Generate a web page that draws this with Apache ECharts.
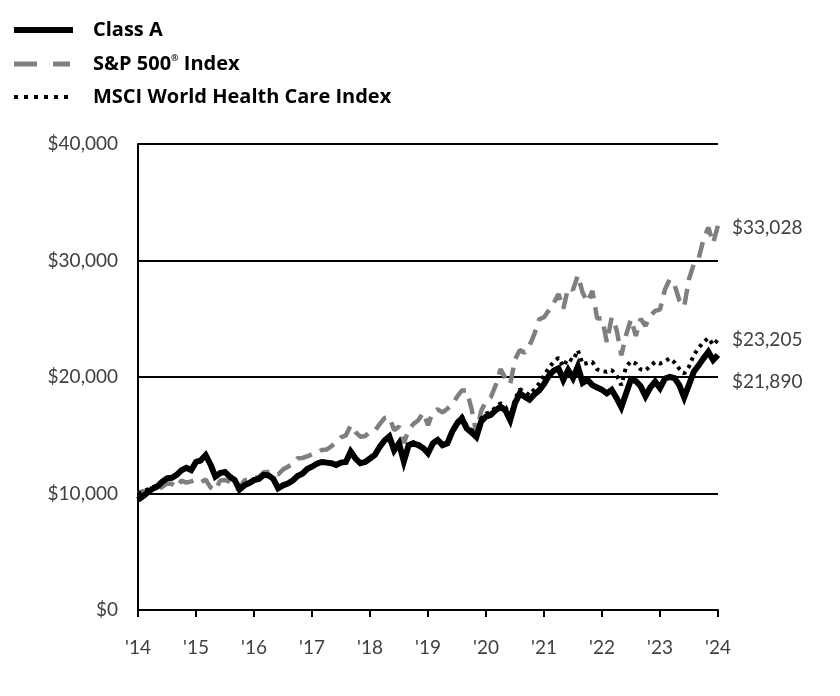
<!DOCTYPE html>
<html>
<head>
<meta charset="utf-8">
<script src="https://cdn.jsdelivr.net/npm/echarts@6/dist/echarts.min.js"></script>
<style>
html,body{margin:0;padding:0;background:#fff;}
#chart{width:840px;height:696px;}
</style>
</head>
<body>
<div id="chart"></div>
<script>
// Month index 0..120 (10 years, monthly), tick every 12 months
const xTickLabels = ["'14","'15","'16","'17","'18","'19","'20","'21","'22","'23","'24"];
const yTicks = [0, 10000, 20000, 30000, 40000];

const classA = [
  9450, 9750, 10100, 10400, 10600, 11000, 11300, 11350, 11600, 12000, 12200, 12000,
  12700, 12850, 13300, 12500, 11450, 11750, 11850, 11450, 11150, 10350, 10700, 10900,
  11150, 11250, 11600, 11550, 11250, 10450, 10700, 10850, 11100, 11500, 11700, 12100,
  12300, 12550, 12700, 12650, 12600, 12450, 12650, 12700, 13600, 13000, 12600, 12700,
  13000, 13300, 14000, 14550, 14900, 13700, 14300, 12750, 14150, 14300, 14150, 13900,
  13450, 14300, 14600, 14150, 14300, 15300, 16000, 16450, 15600, 15250, 14850, 16200,
  16600, 16750, 17150, 17450, 17150, 16300, 17750, 18600, 18300, 18050, 18500, 18850,
  19400, 20100, 20550, 20750, 19750, 20600, 19900, 20900, 19500, 19750, 19300, 19100,
  18900, 18600, 18900, 18200, 17400, 18600, 19800, 19650, 19200, 18350, 19100, 19600,
  19050, 19850, 20000, 19900, 19300, 18250, 19350, 20450, 21000, 21600, 22150, 21450,
  21890
];

const sp500 = [
  10000, 10207, 10066, 10469, 10322, 10574, 10858, 10831, 10506, 11110, 10935, 11040,
  11182, 10965, 11196, 10521, 10261, 11127, 11160, 10984, 10439, 10425, 11132, 11175,
  11376, 11406, 11827, 11843, 11845, 11630, 12061, 12300, 12534, 13031, 13047, 13181,
  13367, 13450, 13727, 13770, 14053, 14381, 14822, 14986, 15845, 15261, 14873, 14930,
  15290, 15385, 15957, 16477, 16571, 15437, 15752, 14329, 15477, 15974, 16284, 16943,
  15867, 16985, 17230, 16958, 17275, 17650, 18291, 18843, 18835, 17286, 15151, 17094,
  17908, 18264, 19294, 20681, 19895, 19366, 21487, 22312, 22087, 22697, 23690, 24955,
  25130, 25715, 26327, 27127, 25866, 27679, 27488, 28720, 27235, 26421, 27401, 25011,
  25056, 22989, 25109, 24085, 21867, 23638, 24958, 23520, 24997, 24387, 25282, 25677,
  25787, 27491, 28373, 27922, 26590, 26031, 28407, 29697, 30196, 31809, 32833, 31494,
  33028
];

const msciHC = [
  10000, 10150, 10350, 10550, 10700, 11050, 11350, 11350, 11600, 11950, 12150, 11950,
  12600, 12750, 13150, 12400, 11400, 11700, 11800, 11450, 11150, 10400, 10750, 10950,
  11200, 11300, 11650, 11600, 11300, 10500, 10750, 10900, 11150, 11550, 11750, 12150,
  12350, 12600, 12750, 12700, 12650, 12500, 12700, 12750, 13650, 13050, 12650, 12750,
  13050, 13350, 14050, 14600, 14950, 13800, 14400, 12850, 14250, 14400, 14250, 14000,
  13550, 14400, 14700, 14250, 14400, 15400, 16150, 16650, 15800, 15450, 15050, 16450,
  16850, 17000, 17400, 17750, 17450, 16600, 18100, 18950, 18700, 18450, 18950, 19450,
  20100, 20800, 21300, 21650, 20900, 21600, 21400, 22300, 21100, 21200, 21300, 20650,
  20500, 20450, 20600, 20150, 19300, 20900, 21350, 21150, 20650, 20550, 20950, 21300,
  21150, 21350, 21600, 21250, 20700, 20300, 20900, 21900, 22500, 23000, 23350, 22750,
  23205
];

const seriesNames = ['Class A', 'S&P 500® Index', 'MSCI World Health Care Index'];

function money(v){
  return '$' + String(Math.round(v)).replace(/\B(?=(\d{3})+(?!\d))/g, ',');
}
function pairs(arr){ return arr.map((v,i)=>[i, v]); }

const chart = echarts.init(document.getElementById('chart'), null, {renderer:'canvas'});
const axisFont = 'Lato, "Open Sans", sans-serif';
const legendFont = '"Open Sans", "Noto Sans", sans-serif';

const option = {
  animation: false,
  backgroundColor: '#ffffff',
  grid: { left: 138, right: 122, top: 144, bottom: 86, containLabel: false },
  xAxis: {
    type: 'value', min: 0, max: 120, interval: 12,
    axisLine: { show: true, lineStyle: { color: '#000', width: 2 } },
    axisTick: { show: true, length: 7, lineStyle: { color: '#000', width: 2 } },
    splitLine: { show: false },
    axisLabel: {
      margin: 28, color: '#404040', fontFamily: axisFont, fontSize: 19,
      formatter: v => xTickLabels[Math.round(v/12)]
    }
  },
  yAxis: {
    type: 'value', min: yTicks[0], max: yTicks[yTicks.length-1], interval: 10000,
    axisLine: { show: true, lineStyle: { color: '#000', width: 2 } },
    axisTick: { show: false },
    splitLine: { show: true, lineStyle: { color: '#000', width: 2 } },
    axisLabel: {
      margin: 20, color: '#404040', fontFamily: axisFont, fontSize: 19,
      formatter: v => money(v)
    }
  },
  series: [
    {
      name: seriesNames[1], type: 'line', data: pairs(sp500), symbol: 'none',
      lineStyle: { color: '#7f7f7f', width: 4.5, type: [16, 9] },
      endLabel: { show: true, formatter: p => money(p.value[1]), color: '#404040',
        fontFamily: axisFont, fontSize: 19, distance: 14, offset: [0, 3] },
      z: 2
    },
    {
      name: seriesNames[2], type: 'line', data: pairs(msciHC), symbol: 'none',
      lineStyle: { color: '#000', width: 4, type: [3.5, 4.5] },
      endLabel: { show: true, formatter: p => money(p.value[1]), color: '#404040',
        fontFamily: axisFont, fontSize: 19, distance: 14, offset: [0, 0] },
      z: 3
    },
    {
      name: seriesNames[0], type: 'line', data: pairs(classA), symbol: 'none',
      lineStyle: { color: '#000', width: 6, join: 'miter' },
      endLabel: { show: true, formatter: p => money(p.value[1]), color: '#404040',
        fontFamily: axisFont, fontSize: 19, distance: 14, offset: [0, 27] },
      z: 4
    }
  ],
  graphic: [
    { type: 'line', shape: { x1: 14, y1: 30, x2: 73, y2: 30 }, style: { stroke: '#000', lineWidth: 6 } },
    { type: 'line', shape: { x1: 14, y1: 64, x2: 70, y2: 64 }, style: { stroke: '#7f7f7f', lineWidth: 5, lineDash: [23, 16] } },
    { type: 'line', shape: { x1: 14, y1: 97, x2: 70, y2: 97 }, style: { stroke: '#000', lineWidth: 4, lineDash: [4, 6] } },
    { type: 'text', x: 93, y: 30, style: { text: seriesNames[0], fill: '#000', font: 'bold 20px ' + legendFont, verticalAlign: 'middle' } },
    { type: 'text', x: 93, y: 64, style: {
        text: '{a|S&P 500}{s|®}{a| Index}', verticalAlign: 'middle',
        rich: {
          a: { fill: '#000', fontFamily: legendFont, fontWeight: 'bold', fontSize: 20 },
          s: { fill: '#000', fontFamily: legendFont, fontWeight: 'bold', fontSize: 9, verticalAlign: 'top', padding: [0, 0, 12, 0] }
        } } },
    { type: 'text', x: 93, y: 97, style: { text: seriesNames[2], fill: '#000', font: 'bold 20px ' + legendFont, verticalAlign: 'middle' } }
  ]
};
chart.setOption(option);
</script>
</body>
</html>
